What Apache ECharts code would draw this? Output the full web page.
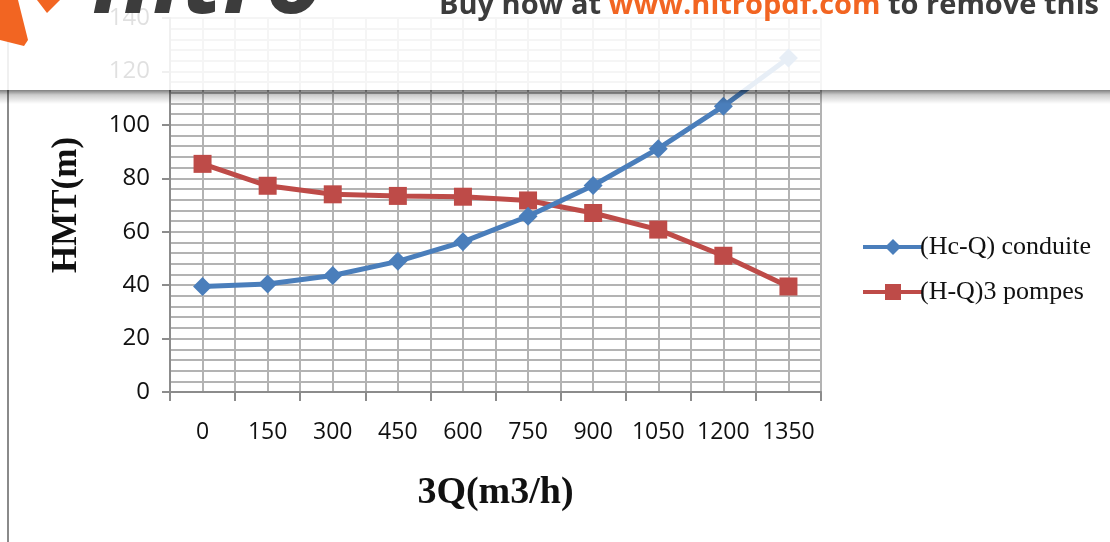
<!DOCTYPE html>
<html>
<head>
<meta charset="utf-8">
<script src="https://cdn.jsdelivr.net/npm/echarts@6/dist/echarts.min.js"></script>
<style>
  html, body { margin: 0; padding: 0; background: #fff; }
  #chart { width: 1110px; height: 542px; }
</style>
</head>
<body>
<div id="chart"></div>
<script>
// Flow rate categories (m3/h) for three pumps in parallel
const categories = ['0', '150', '300', '450', '600', '750', '900', '1050', '1200', '1350'];
// System curve of the pipeline (Hc-Q)
const conduite = [39.5, 40.4, 43.6, 48.9, 56.2, 65.8, 77.3, 91.1, 107.0, 125.0];
// Combined curve of the three pumps (H-Q)
const pompes = [85.4, 77.2, 74.0, 73.4, 73.1, 71.7, 67.0, 60.8, 51.0, 39.5];
// Y axis range and step
const yMin = 0, yMax = 140, yStep = 20;

const gridColor = '#b3b3b3';
const axisColor = '#8c8c8c';

const chart = echarts.init(document.getElementById('chart'));
chart.setOption({
  animation: false,
  backgroundColor: '#ffffff',
  grid: { left: 170, right: 289, top: 18, bottom: 150 },
  legend: {
    orient: 'vertical',
    left: 856,
    top: 229,
    itemWidth: 60,
    itemHeight: 20,
    itemGap: 19,
    lineStyle: { width: 4 },
    textStyle: { fontFamily: 'Liberation Serif', fontSize: 26, color: '#111', padding: [0, 0, 0, -8] },
    data: ['(Hc-Q) conduite', '(H-Q)3 pompes']
  },
  xAxis: [
    {
      type: 'category',
      data: categories,
      boundaryGap: true,
      axisLine: { lineStyle: { color: axisColor, width: 2 } },
      axisTick: { show: true, length: 9, interval: 0, lineStyle: { color: axisColor, width: 2 } },
      axisLabel: { margin: 29, interval: 0, fontSize: 23, color: '#111', fontFamily: 'Open Sans' },
      splitLine: { show: false },
      name: '3Q(m3/h)',
      nameLocation: 'middle',
      nameGap: 82,
      nameTextStyle: { fontFamily: 'Liberation Serif', fontWeight: 'bold', fontSize: 38, color: '#111' }
    },
    {
      // half-category grid for the vertical gridlines
      type: 'value',
      min: 0, max: 20, interval: 1,
      position: 'top',
      axisLine: { show: false },
      axisTick: { show: false },
      axisLabel: { show: false },
      splitLine: { show: true, lineStyle: { color: gridColor, width: 2 } }
    }
  ],
  yAxis: {
    type: 'value',
    min: yMin, max: yMax, interval: yStep,
    axisLine: { show: true, lineStyle: { color: axisColor, width: 2 } },
    axisTick: { show: true, length: 8, lineStyle: { color: axisColor, width: 2 } },
    axisLabel: { margin: 20, fontSize: 24, color: '#111', fontFamily: 'Open Sans' },
    splitLine: { show: true, lineStyle: { color: gridColor, width: 2 } },
    minorTick: { show: false, splitNumber: 5 },
    minorSplitLine: { show: true, lineStyle: { color: gridColor, width: 2 } },
    name: 'HMT(m)',
    nameLocation: 'middle',
    nameGap: 86,
    nameTextStyle: { fontFamily: 'Liberation Serif', fontWeight: 'bold', fontSize: 35, color: '#111' }
  },
  series: [
    {
      name: '(Hc-Q) conduite',
      type: 'line',
      data: conduite,
      symbol: 'diamond',
      symbolSize: 19,
      lineStyle: { color: '#4a7ebb', width: 5 },
      itemStyle: { color: '#4a7ebb' },
      z: 3
    },
    {
      name: '(H-Q)3 pompes',
      type: 'line',
      data: pompes,
      symbol: 'rect',
      symbolSize: 18,
      lineStyle: { color: '#be4b48', width: 5 },
      itemStyle: { color: '#be4b48' },
      z: 2
    }
  ],
  graphic: [
    // left frame edge
    { type: 'line', shape: { x1: 8, y1: 0, x2: 8, y2: 542 }, style: { stroke: '#8a8a8a', lineWidth: 2 }, z: 1 },
    // translucent banner across the top
    {
      type: 'rect', shape: { x: 0, y: 0, width: 1110, height: 90 },
      style: { fill: 'rgba(255,255,255,0.87)' },
      z: 100
    },
    // soft shadow under the banner
    {
      type: 'rect', shape: { x: 0, y: 90, width: 1110, height: 14 },
      style: {
        fill: new echarts.graphic.LinearGradient(0, 0, 0, 1, [
          { offset: 0, color: 'rgba(0,0,0,0.5)' },
          { offset: 0.35, color: 'rgba(0,0,0,0.2)' },
          { offset: 1, color: 'rgba(0,0,0,0)' }
        ])
      },
      z: 100
    },
    { type: 'polygon', shape: { points: [[0, 0], [18, 0], [28, 40], [24, 46], [0, 40]] }, style: { fill: '#f26522' }, z: 101 },
    { type: 'polygon', shape: { points: [[37, 0], [60, 0], [47, 13]] }, style: { fill: '#f26522' }, z: 101 },
    {
      type: 'text', x: 92, y: 35, z: 101,
      style: { text: 'nitro', fontSize: 100, fontWeight: 'bold', fontStyle: 'italic', fontFamily: 'Open Sans', fill: '#3c3c3c', verticalAlign: 'bottom' }
    },
    {
      type: 'text', x: 439, y: 20, z: 101,
      style: {
        text: '{a|Buy now at }{b|www.nitropdf.com}{a| to remove this}',
        verticalAlign: 'bottom',
        rich: {
          a: { fontSize: 29, fontWeight: 'bold', fontFamily: 'Open Sans', fill: '#3c3c3c', color: '#3c3c3c' },
          b: { fontSize: 29, fontWeight: 'bold', fontFamily: 'Open Sans', fill: '#f26522', color: '#f26522' }
        }
      }
    }
  ]
});
</script>
</body>
</html>
